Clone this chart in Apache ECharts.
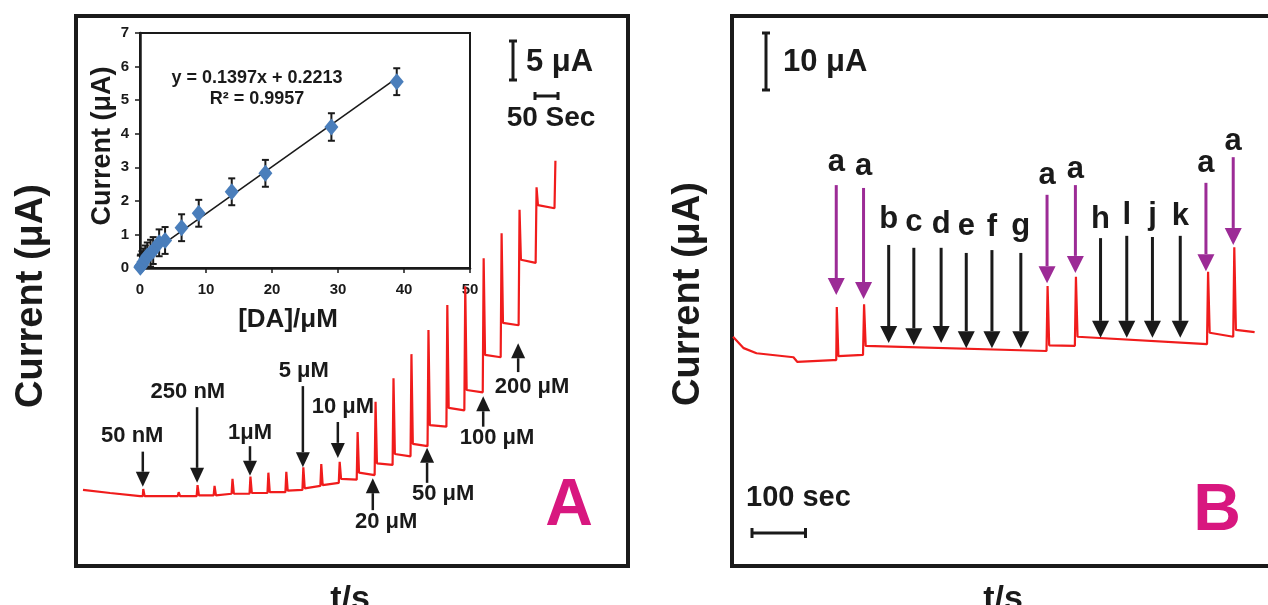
<!DOCTYPE html>
<html>
<head>
<meta charset="utf-8">
<script src="https://cdn.jsdelivr.net/npm/echarts@6/dist/echarts.min.js"></script>
<style>
    html, body { margin: 0; padding: 0; background: #fff; }
    #chart { width: 1268px; height: 605px; }
</style>
</head>
<body>
<div id="chart"></div>
<script>
// ---- panel A: amperometric trace (time in s, current in µA) ----
const aStartT = [0, 59, 124];
const aStartI = [1.3, 0.9, 0.5];
const aSpikeT = [130, 207, 248, 285, 324, 363, 402, 441, 478, 517, 557, 596,
    635, 674, 713, 750, 791, 830, 870, 909, 948, 985, 1026];
const aPeakI = [1.4, 1.0, 1.9, 1.8, 2.7, 3.0, 3.5, 3.6, 4.2, 4.6, 4.9, 8.7,
    12.6, 15.6, 18.7, 21.8, 25.0, 27.4, 31.0, 34.2, 37.2, 40.1, 43.5];
// current right after each addition, and just before the next one
const aStepHighI = [0.5, 0.5, 0.6, 0.6, 0.8, 0.9, 1.0, 1.2, 1.5, 1.9, 2.7,
    3.5, 4.7, 5.9, 7.2, 9.6, 11.8, 14.1, 18.6, 22.7, 30.8, 37.8];
const aStepLowI = [0.5, 0.5, 0.6, 0.8, 0.8, 0.9, 1.0, 1.3, 1.8, 2.2, 2.6,
    3.2, 4.5, 5.6, 6.9, 9.4, 11.5, 13.8, 18.3, 22.4, 30.4, 37.4];

// additions marked with arrows
const aLabels = ['50 nM', '250 nM', '1μM', '5 μM', '10 μM', '20 μM', '50 μM', '100 μM', '200 μM'];
const aArrowT = [130, 248, 363, 478, 554, 630, 748, 870, 946];
const aArrowFromI = [6.2, 11.9, 6.9, 14.6, 10.0, -1.3, 2.2, 9.4, 16.4];
const aArrowToI = [1.7, 2.2, 3.1, 4.2, 5.4, 2.8, 6.7, 13.3, 20.1];
const aLabelT = [107, 228, 363, 480, 565, 659, 783, 900, 976];
const aLabelI = [7.2, 12.8, 7.6, 15.5, 10.9, -3.8, -0.3, 6.9, 13.5];

// scale bars
const aScaleCurrent = 5;   // µA
const aScaleTime = 50;     // s

// ---- inset: calibration ----
const insetConc = [0.05, 0.1, 0.3, 0.5, 0.8, 1.1, 1.6, 2.0, 2.9, 3.8, 6.3, 8.9, 13.9, 19.0, 29.0, 38.9];
const insetCurrent = [0.02, 0.05, 0.1, 0.18, 0.27, 0.36, 0.44, 0.52, 0.75, 0.82, 1.2, 1.63, 2.27, 2.82, 4.2, 5.55];
const insetErr = [0.35, 0.35, 0.4, 0.4, 0.4, 0.4, 0.4, 0.4, 0.4, 0.4, 0.4, 0.4, 0.4, 0.4, 0.41, 0.4];
const fitX = [0, 39];
const fitY = [0.22, 5.67];

// ---- panel B: interference trace ----
const bStartT = [0, 20, 44, 113, 120, 187];
const bStartI = [11.1, 9.1, 8.2, 7.5, 6.7, 7.0];
const bSpikeT = [193, 244, 587, 640, 887, 936];
const bPeakI = [16.3, 16.8, 20.0, 21.6, 22.5, 26.8];
const bStepHighI = [7.7, 9.5, 9.6, 11.1, 11.8, 12.3];
const bStepLowI = [7.9, 8.6, 9.5, 9.8, 11.1, 11.9];
const bEndT = 975;

const bLabels = ['a', 'a', 'b', 'c', 'd', 'e', 'f', 'g', 'a', 'a', 'h', 'l', 'j', 'k', 'a', 'a'];
const bArrowT = [193, 244, 291, 338, 389, 436, 484, 538, 587, 640, 687, 736, 784, 836, 884, 935];
const bArrowFromI = [37.7, 37.2, 27.2, 26.7, 26.7, 25.8, 26.3, 25.8, 36.0, 37.7, 28.4, 28.8, 28.6, 28.8, 38.1, 42.6];
const bArrowToI = [18.4, 17.7, 10.0, 9.6, 10.0, 9.1, 9.1, 9.1, 20.5, 22.3, 10.9, 10.9, 10.9, 10.9, 22.6, 27.2];
const bLabelI = [39.8, 39.1, 29.8, 29.3, 28.9, 28.6, 28.4, 28.6, 37.4, 38.6, 29.8, 30.4, 30.5, 30.2, 39.5, 43.5];

const bScaleCurrent = 10;  // µA
const bScaleTime = 100;    // s

const FONT = '"Liberation Sans", Arial, sans-serif';
const RED = '#f01c1c';
const PURPLE = '#9c2b96';
const MAGENTA = '#d8177f';
const INK = '#1a1a1a';

function buildTrace(startT, startI, spikeT, peakI, highI, lowI, endT) {
    const pts = startT.map((t, k) => [t, startI[k]]);
    let level = startI[startI.length - 1];
    spikeT.forEach((t, k) => {
        pts.push([t, level]);
        pts.push([t + 1, peakI[k]]);
        if (k < highI.length) {
            pts.push([t + 4, highI[k]]);
            const next = k + 1 < spikeT.length ? spikeT[k + 1] - 1 : endT;
            pts.push([next, lowI[k]]);
            level = lowI[k];
        }
    });
    return pts;
}

const chart = echarts.init(document.getElementById('chart'));

const hiddenAxis = (grid, min, max) => ({ type: 'value', gridIndex: grid, min, max, show: false });
const insetAxisLabel = { color: INK, fontFamily: FONT, fontWeight: 'bold', fontSize: 15 };

const option = {
    animation: false,
    backgroundColor: '#fff',
    grid: [
        { left: 83, top: 149, width: 506, height: 351 },
        { left: 140, top: 33, width: 330, height: 235, show: true, borderColor: INK, borderWidth: 2, backgroundColor: '#fff' },
        { left: 733, top: 143.5, width: 550, height: 256.5 }
    ],
    xAxis: [
        hiddenAxis(0, 0, 1100),
        {
            type: 'value', gridIndex: 1, min: 0, max: 50, interval: 10,
            axisLine: { lineStyle: { color: INK, width: 2.5 } },
            axisTick: { length: 5, lineStyle: { color: INK, width: 1.5 } },
            axisLabel: Object.assign({ margin: 14 }, insetAxisLabel),
            splitLine: { show: false }
        },
        hiddenAxis(2, 0, 1000)
    ],
    yAxis: [
        hiddenAxis(0, 0, 45),
        {
            type: 'value', gridIndex: 1, min: 0, max: 7, interval: 1,
            axisLine: { show: true, lineStyle: { color: INK, width: 2.5 } },
            axisTick: { show: true, length: 5, lineStyle: { color: INK, width: 1.5 } },
            axisLabel: Object.assign({ margin: 11 }, insetAxisLabel),
            splitLine: { show: false }
        },
        hiddenAxis(2, 0, 45)
    ],
    series: [
        {
            type: 'line', xAxisIndex: 0, yAxisIndex: 0, showSymbol: false, z: 3,
            lineStyle: { color: RED, width: 2.2 },
            data: buildTrace(aStartT, aStartI, aSpikeT, aPeakI, aStepHighI, aStepLowI, 0)
        },
        {
            type: 'line', xAxisIndex: 2, yAxisIndex: 2, showSymbol: false,
            lineStyle: { color: RED, width: 2.2 },
            data: buildTrace(bStartT, bStartI, bSpikeT, bPeakI, bStepHighI, bStepLowI, bEndT)
        },
        {
            type: 'line', xAxisIndex: 1, yAxisIndex: 1, showSymbol: false, z: 4,
            lineStyle: { color: INK, width: 1.6 },
            data: fitX.map((x, k) => [x, fitY[k]])
        },
        {
            type: 'custom', xAxisIndex: 1, yAxisIndex: 1, z: 5,
            data: insetConc.map((x, k) => [x, insetCurrent[k], insetErr[k]]),
            renderItem(params, api) {
                const x = api.value(0);
                const y = api.value(1);
                const e = api.value(2);
                const top = api.coord([x, y + e]);
                const bot = api.coord([x, Math.max(y - e, 0)]);
                const style = { stroke: INK, lineWidth: 2 };
                return {
                    type: 'group',
                    children: [
                        { type: 'line', shape: { x1: top[0], y1: top[1], x2: bot[0], y2: bot[1] }, style },
                        { type: 'line', shape: { x1: top[0] - 3.5, y1: top[1], x2: top[0] + 3.5, y2: top[1] }, style },
                        { type: 'line', shape: { x1: bot[0] - 3.5, y1: bot[1], x2: bot[0] + 3.5, y2: bot[1] }, style }
                    ]
                };
            }
        },
        {
            type: 'scatter', xAxisIndex: 1, yAxisIndex: 1, z: 6,
            symbol: 'diamond', symbolSize: [14, 17],
            itemStyle: { color: '#4a7ebb', opacity: 1 },
            data: insetConc.map((x, k) => [x, insetCurrent[k]])
        }
    ]
};
chart.setOption(option);

// ---- annotations placed through the axes ----
const toA = p => chart.convertToPixel({ gridIndex: 0 }, p);
const toB = p => chart.convertToPixel({ gridIndex: 2 }, p);

function text(str, x, y, size, opts) {
    opts = opts || {};
    return {
        type: 'text', x, y, rotation: opts.rotation || 0, z: 100,
        style: {
            text: str, fill: opts.color || INK,
            font: 'bold ' + size + 'px ' + FONT,
            align: opts.align || 'center', verticalAlign: opts.valign || 'middle',
            textAlign: opts.align || 'center', textVerticalAlign: opts.valign || 'middle'
        }
    };
}

function arrow(p0, p1, color, lw, headW, headL) {
    const dir = p1[1] > p0[1] ? 1 : -1;
    const baseY = p1[1] - dir * headL;
    return [
        { type: 'line', z: 90, shape: { x1: p0[0], y1: p0[1], x2: p1[0], y2: baseY }, style: { stroke: color, lineWidth: lw } },
        {
            type: 'polygon', z: 90,
            shape: { points: [[p1[0] - headW / 2, baseY], [p1[0] + headW / 2, baseY], [p1[0], p1[1]]] },
            style: { fill: color }
        }
    ];
}

function scaleBar(x1, y1, x2, y2, capLen) {
    const vertical = x1 === x2;
    const style = { stroke: INK, lineWidth: 3 };
    const cap = (x, y) => vertical
        ? { type: 'line', shape: { x1: x - capLen / 2, y1: y, x2: x + capLen / 2, y2: y }, style }
        : { type: 'line', shape: { x1: x, y1: y - capLen / 2, x2: x, y2: y + capLen / 2 }, style };
    return [{ type: 'line', shape: { x1, y1, x2, y2 }, style }, cap(x1, y1), cap(x2, y2)];
}

const g = [];
// panel frames
g.push({ type: 'rect', z: 1, shape: { x: 76, y: 16, width: 552, height: 550 }, style: { fill: 'none', stroke: INK, lineWidth: 4 } });
g.push({ type: 'rect', z: 1, shape: { x: 732, y: 16, width: 600, height: 550 }, style: { fill: 'none', stroke: INK, lineWidth: 4 } });

// axis titles
g.push(text('Current (μA)', 32, 296, 38, { rotation: Math.PI / 2 }));
g.push(text('Current (μA)', 689, 294, 38, { rotation: Math.PI / 2 }));
g.push(text('t/s', 350, 600, 34));
g.push(text('t/s', 1003, 600, 34));
g.push(text('A', 569, 507, 66, { color: MAGENTA }));
g.push(text('B', 1217, 512, 66, { color: MAGENTA }));

// inset titles and equation
g.push(text('Current (μA)', 103, 146, 27, { rotation: Math.PI / 2 }));
g.push(text('[DA]/μM', 288, 320, 26));
g.push(text('y = 0.1397x + 0.2213', 257, 78, 18));
g.push(text('R² = 0.9957', 257, 99, 18));

// panel A arrows and labels
aLabels.forEach((lab, k) => {
    g.push(...arrow(toA([aArrowT[k], aArrowFromI[k]]), toA([aArrowT[k], aArrowToI[k]]), INK, 2.5, 14, 15));
    const p = toA([aLabelT[k], aLabelI[k]]);
    g.push(text(lab, p[0], p[1] - 8, 22));
});

// panel B arrows and labels
bLabels.forEach((lab, k) => {
    const color = lab === 'a' ? PURPLE : INK;
    g.push(...arrow(toB([bArrowT[k], bArrowFromI[k]]), toB([bArrowT[k], bArrowToI[k]]), color, 3, 17, 17));
    const p = toB([bArrowT[k], bLabelI[k]]);
    g.push(text(lab, p[0], p[1] - 11, 31));
});

// scale bars sized by the axes
const aI0 = toA([0, 0]), aI1 = toA([0, aScaleCurrent]), aT1 = toA([aScaleTime, 0]);
const aBarV = aI0[1] - aI1[1];
const aBarH = aT1[0] - aI0[0];
g.push(...scaleBar(513, 80 - aBarV, 513, 80, 8));
g.push(text('5 μA', 526, 62, 31, { align: 'left' }));
g.push(...scaleBar(535, 96, 535 + aBarH, 96, 8));
g.push(text('50 Sec', 551, 118, 28));

const bI0 = toB([0, 0]), bI1 = toB([0, bScaleCurrent]), bT1 = toB([bScaleTime, 0]);
const bBarV = bI0[1] - bI1[1];
const bBarH = bT1[0] - bI0[0];
g.push(...scaleBar(766, 90 - bBarV, 766, 90, 8));
g.push(text('10 μA', 783, 62, 31, { align: 'left' }));
g.push(...scaleBar(752, 533, 752 + bBarH, 533, 10));
g.push(text('100 sec', 746, 498, 29, { align: 'left' }));

chart.setOption({ graphic: g });
</script>
</body>
</html>
